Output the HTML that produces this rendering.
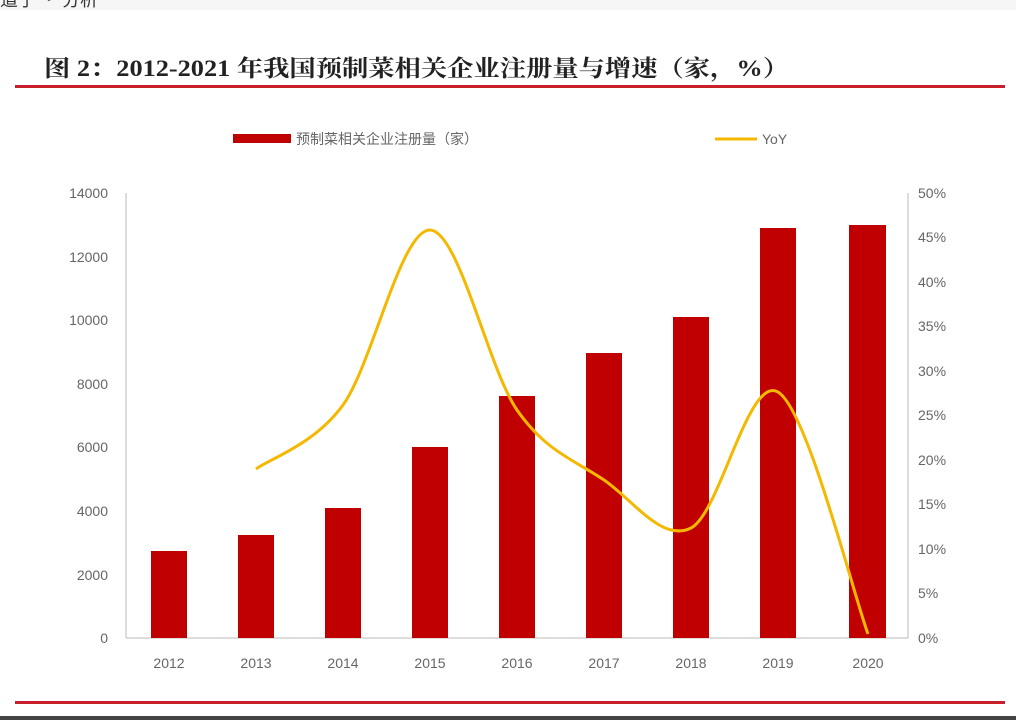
<!DOCTYPE html>
<html><head><meta charset="utf-8"><style>
body{margin:0;background:#fff;width:1016px;height:720px;overflow:hidden;font-family:"Liberation Sans","Noto Sans CJK SC",sans-serif;}
</style></head><body>
<svg width="1016" height="720" xmlns="http://www.w3.org/2000/svg">
<rect x="0" y="0" width="1016" height="10" fill="#f6f6f6"/>
<text x="0" y="6" font-size="18" fill="#333" font-family="Noto Sans CJK SC,sans-serif">道子  ·  分析</text>
<text x="44" y="76" font-size="23" font-weight="bold" fill="#222" font-family="Liberation Serif,Noto Serif CJK SC,serif" textLength="745" lengthAdjust="spacingAndGlyphs">图 2：2012-2021 年我国预制菜相关企业注册量与增速（家，%）</text>
<rect x="15" y="85" width="990" height="3" fill="#c8202a"/>
<rect x="233" y="134" width="58" height="9" fill="#c00000"/>
<text x="296" y="144" font-size="14" fill="#666" font-family="Noto Sans CJK SC,sans-serif">预制菜相关企业注册量（家）</text>
<line x1="715" y1="139" x2="757" y2="139" stroke="#f5b800" stroke-width="3"/>
<text x="762" y="144" font-size="14" fill="#666">YoY</text>
<g font-size="14" fill="#666" text-anchor="end">
<text x="108" y="643">0</text><text x="108" y="580">2000</text><text x="108" y="516">4000</text><text x="108" y="452">6000</text><text x="108" y="389">8000</text><text x="108" y="325">10000</text><text x="108" y="262">12000</text><text x="108" y="198">14000</text>
</g>
<g font-size="14" fill="#666">
<text x="918" y="643">0%</text><text x="918" y="598">5%</text><text x="918" y="554">10%</text><text x="918" y="509">15%</text><text x="918" y="465">20%</text><text x="918" y="420">25%</text><text x="918" y="376">30%</text><text x="918" y="331">35%</text><text x="918" y="287">40%</text><text x="918" y="242">45%</text><text x="918" y="198">50%</text>
</g>
<line x1="126" y1="193" x2="126" y2="638" stroke="#bbb"/>
<line x1="908" y1="193" x2="908" y2="638" stroke="#bbb"/>
<line x1="126" y1="638" x2="908" y2="638" stroke="#bbb"/>
<g fill="#c00000">
<rect x="151" y="551" width="36" height="87"/>
<rect x="238" y="535" width="36" height="103"/>
<rect x="325" y="508" width="36" height="130"/>
<rect x="412" y="447" width="36" height="191"/>
<rect x="499" y="396" width="36" height="242"/>
<rect x="586" y="353" width="36" height="285"/>
<rect x="673" y="317" width="36" height="321"/>
<rect x="760" y="228" width="36" height="410"/>
<rect x="849" y="225" width="37" height="413"/>
</g>
<path d="M256,469 C270.5,458.3 314,444.8 343,405 C372,365.2 401,229.2 430,230 C459,230.8 488,368.3 517,410 C546,451.7 575,460.3 604,480 C633,499.7 662,542.7 691,528 C720,513.3 748.5,374.3 778,392 C807.5,409.7 853,593.7 868,634" fill="none" stroke="#f5b800" stroke-width="3"/>
<g font-size="14" fill="#666" text-anchor="middle">
<text x="169" y="668">2012</text><text x="256" y="668">2013</text><text x="343" y="668">2014</text><text x="430" y="668">2015</text><text x="517" y="668">2016</text><text x="604" y="668">2017</text><text x="691" y="668">2018</text><text x="778" y="668">2019</text><text x="868" y="668">2020</text>
</g>
<rect x="15" y="701" width="990" height="3" fill="#c8202a"/>
<rect x="0" y="716" width="1016" height="4" fill="#444"/>
</svg>
</body></html>
